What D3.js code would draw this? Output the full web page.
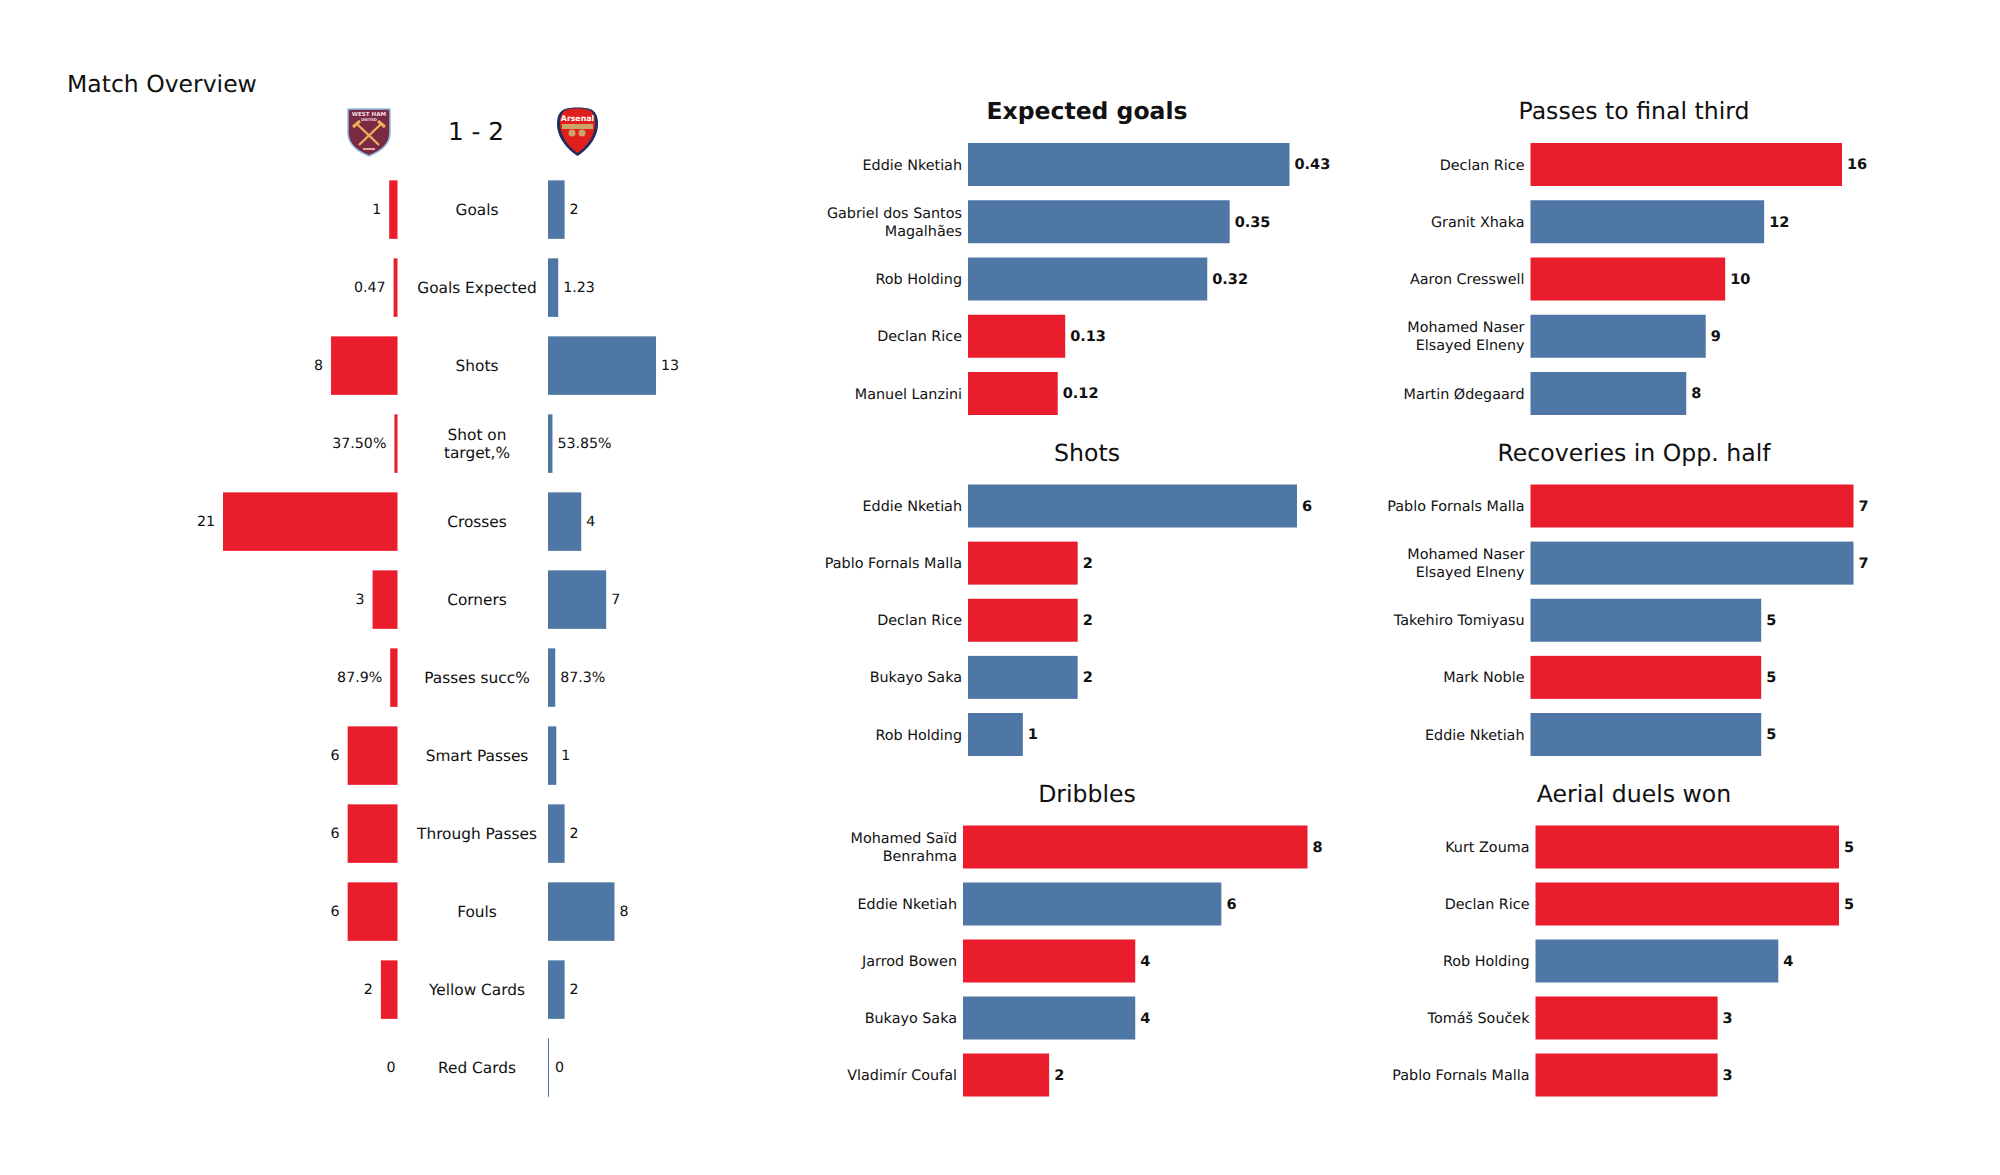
<!DOCTYPE html>
<html><head><meta charset="utf-8">
<script src="https://cdnjs.cloudflare.com/ajax/libs/d3/7.8.5/d3.min.js"></script>
<style>html,body{margin:0;padding:0;background:#fff}svg{display:block}text{font-family:"DejaVu Sans",sans-serif;fill:#111;text-rendering:geometricPrecision}</style>
</head><body><svg id="c" width="2000" height="1175"></svg>
<script>
const RED = "#ea1d2c", BLUE = "#4f77a5";
const overviewCategories = ["Goals","Goals Expected","Shots","Shot on\ntarget,%","Crosses","Corners","Passes succ%","Smart Passes","Through Passes","Fouls","Yellow Cards","Red Cards"];
const homeValues = [1,0.47,8,0.375,21,3,0.879,6,6,6,2,0];
const awayValues = [2,1.23,13,0.5385,4,7,0.873,1,2,8,2,0];
const homeLabels = ["1","0.47","8","37.50%","21","3","87.9%","6","6","6","2","0"];
const awayLabels = ["2","1.23","13","53.85%","4","7","87.3%","1","2","8","2","0"];

const xgNames = ["Eddie Nketiah","Gabriel dos Santos\nMagalhães","Rob Holding","Declan Rice","Manuel Lanzini"];
const xgValues = [0.43,0.35,0.32,0.13,0.12];
const xgTeams = ["a","a","a","h","h"];
const shotNames = ["Eddie Nketiah","Pablo Fornals Malla","Declan Rice","Bukayo Saka","Rob Holding"];
const shotValues = [6,2,2,2,1];
const shotTeams = ["a","h","h","a","a"];
const dribbleNames = ["Mohamed Saïd\nBenrahma","Eddie Nketiah","Jarrod Bowen","Bukayo Saka","Vladimír Coufal"];
const dribbleValues = [8,6,4,4,2];
const dribbleTeams = ["h","a","h","a","h"];
const passNames = ["Declan Rice","Granit Xhaka","Aaron Cresswell","Mohamed Naser\nElsayed Elneny","Martin Ødegaard"];
const passValues = [16,12,10,9,8];
const passTeams = ["h","a","h","a","a"];
const recoveryNames = ["Pablo Fornals Malla","Mohamed Naser\nElsayed Elneny","Takehiro Tomiyasu","Mark Noble","Eddie Nketiah"];
const recoveryValues = [7,7,5,5,5];
const recoveryTeams = ["h","a","a","h","a"];
const aerialNames = ["Kurt Zouma","Declan Rice","Rob Holding","Tomáš Souček","Pablo Fornals Malla"];
const aerialValues = [5,5,4,3,3];
const aerialTeams = ["h","h","a","h","h"];

const svg = d3.select("#c");
const colour = d3.scaleOrdinal(["h","a"],[RED,BLUE]);

function multiline(g, txt, x, y, anchor, size, lh) {
  const lines = txt.split("\n");
  const t = g.append("text").attr("text-anchor",anchor).attr("font-size",size).attr("dominant-baseline","central");
  lines.forEach((l,i)=>t.append("tspan").attr("x",x).attr("y",y+(i-(lines.length-1)/2)*lh).text(l));
  return t;
}

// --- header
svg.append("text").attr("x",67).attr("y",92).attr("font-size",23.5).text("Match Overview");
svg.append("text").attr("x",476).attr("y",140).attr("text-anchor","middle").attr("font-size",24.7).text("1 - 2");

// --- overview
const rowY = d3.scalePoint().domain(d3.range(overviewCategories.length)).range([209.6,1067.6]);
const unit = d3.scaleLinear().domain([0,21]).range([0,174.5]);
const HOME_X = 397.5, AWAY_X = 548, ROW_H = 58.5;
const ov = svg.append("g");
overviewCategories.forEach((c,i)=>{
  const y = rowY(i), hw = unit(homeValues[i]), aw = unit(awayValues[i]);
  if (hw>0) ov.append("rect").attr("x",HOME_X-hw).attr("y",y-ROW_H/2).attr("width",hw).attr("height",ROW_H).attr("fill",RED);
  ov.append("rect").attr("x",AWAY_X).attr("y",y-ROW_H/2).attr("width",Math.max(aw,1)).attr("height",ROW_H).attr("fill",BLUE);
  ov.append("text").attr("x",HOME_X-hw-(hw>0?8:2)).attr("y",y).attr("text-anchor","end").attr("dominant-baseline","central").attr("font-size",14.2).text(homeLabels[i]);
  ov.append("text").attr("x",AWAY_X+aw+(aw>0?5:7)).attr("y",y).attr("text-anchor","start").attr("dominant-baseline","central").attr("font-size",14.2).text(awayLabels[i]);
  multiline(ov,c,477,y+0.2,"middle",15.35,18);
});

// --- player panels
function panel(title,bold,titleX,titleY,names,vals,teams,x0,xMax,vMax,top,bottom){
  const g = svg.append("g");
  g.append("text").attr("x",titleX).attr("y",titleY).attr("text-anchor","middle").attr("dominant-baseline","central")
    .attr("font-size",bold?23.5:23.6).attr("font-weight",bold?"bold":"normal").text(title);
  const x = d3.scaleLinear().domain([0,vMax]).range([x0,xMax]);
  const y = d3.scalePoint().domain(d3.range(names.length)).range([top,bottom]);
  g.selectAll("rect").data(vals).join("rect").attr("x",x0).attr("y",(d,i)=>y(i)-21.5).attr("width",d=>x(d)-x0).attr("height",43).attr("fill",(d,i)=>colour(teams[i]));
  vals.forEach((v,i)=>{
    multiline(g,names[i],x0-6,y(i)+1,"end",14.35,17.7);
    g.append("text").attr("x",x(v)+5).attr("y",y(i)+0.8).attr("dominant-baseline","central").attr("font-size",14.5).attr("font-weight","bold").text(String(v));
  });
}
panel("Expected goals",true,1087,111,xgNames,xgValues,xgTeams,968,1289.5,0.43,164.5,393.5);
panel("Shots",false,1087,453,shotNames,shotValues,shotTeams,968,1297,6,506,734.5);
panel("Dribbles",false,1087,794,dribbleNames,dribbleValues,dribbleTeams,963,1307.5,8,847,1075);
panel("Passes to final third",false,1634,111,passNames,passValues,passTeams,1530.5,1842,16,164.5,393.5);
panel("Recoveries in Opp. half",false,1634,453,recoveryNames,recoveryValues,recoveryTeams,1530.5,1853.5,7,506,734.5);
panel("Aerial duels won",false,1634,794,aerialNames,aerialValues,aerialTeams,1535.5,1839,5,847,1075);

// --- crests (hand drawn)
const wh = svg.append("g").attr("transform","translate(347,107)");
wh.append("path").attr("d","M1,2 L43,2 L43,26 C43,38 32,45 22,49 C12,45 1,38 1,26 Z").attr("fill","#7a2a42").attr("stroke","#8cc4e6").attr("stroke-width",1.5);
wh.append("text").attr("x",22).attr("y",9).attr("text-anchor","middle").attr("font-size",5.6).attr("font-weight","bold").style("fill","#f1dfe3").text("WEST HAM");
wh.append("text").attr("x",22).attr("y",14).attr("text-anchor","middle").attr("font-size",3.8).attr("font-weight","bold").style("fill","#f1dfe3").text("UNITED");
wh.append("path").attr("d","M10,17 L32,38 M34,17 L12,38").attr("stroke","#eeb05a").attr("stroke-width",2.4).attr("fill","none");
wh.append("path").attr("d","M6,20 L13,14 M38,20 L31,14").attr("stroke","#eeb05a").attr("stroke-width",3).attr("fill","none");
wh.append("rect").attr("x",16).attr("y",41).attr("width",12).attr("height",2).attr("fill","#e3a7a0");
const ar = svg.append("g").attr("transform","translate(557,106)");
ar.append("path").attr("d","M8,3 C14,1 27,1 33,3 C38,5 41,9 41,18 C41,32 30,44 20.5,50 C11,44 0,32 0,18 C0,9 3,5 8,3 Z").attr("fill","#1f2c5c");
ar.append("path").attr("d","M9,4 C15,2 26,2 32,4 C36,6 38,10 38,18 C38,31 28,42 20.5,47 C13,42 3,31 3,18 C3,10 5,6 9,4 Z").attr("fill","#e0201e");
ar.append("text").attr("x",20.5).attr("y",14.5).attr("text-anchor","middle").attr("font-size",7.8).attr("font-weight","bold").style("fill","#fff").text("Arsenal");
ar.append("rect").attr("x",5).attr("y",18).attr("width",31).attr("height",5).attr("fill","#c9a56a");
ar.append("circle").attr("cx",15).attr("cy",27).attr("r",3.5).attr("fill","#c9a56a");
ar.append("circle").attr("cx",25).attr("cy",27).attr("r",3.5).attr("fill","#c9a56a");
</script></body></html>
